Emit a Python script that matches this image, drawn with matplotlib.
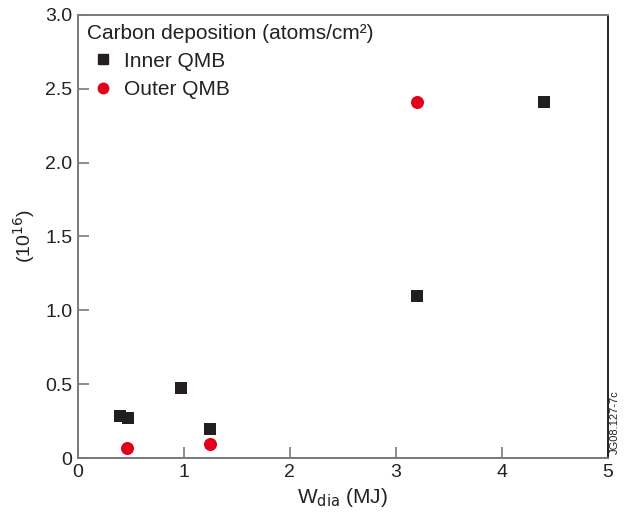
import matplotlib
matplotlib.use("Agg")
import matplotlib.pyplot as plt
from matplotlib.lines import Line2D

plt.rcParams['font.family'] = ['Liberation Sans', 'DejaVu Sans']

# Stored energy (MJ) and carbon deposition (1e16 atoms/cm^2)
inner_w = [0.40, 0.47, 0.97, 1.25, 3.20, 4.40]
inner_c = [0.285, 0.272, 0.475, 0.195, 1.10, 2.41]
outer_w = [0.465, 1.25, 3.20]
outer_c = [0.07, 0.095, 2.41]

x_ticks = [0, 1, 2, 3, 4, 5]
y_ticks = [0, 0.5, 1.0, 1.5, 2.0, 2.5, 3.0]
y_labels = ["0", "0.5", "1.0", "1.5", "2.0", "2.5", "3.0"]

dark = "#231f20"
red = "#e2001a"
grey = "#7a7a7a"

fig = plt.figure(figsize=(6.24, 5.13), dpi=100)
ax = fig.add_axes([0.125, 0.107, 0.849, 0.864])

ax.scatter(inner_w, inner_c, marker="s", s=66, color=dark, linewidths=0, zorder=3)
ax.scatter(outer_w, outer_c, marker="o", s=88, color=red, linewidths=0, zorder=3)

ax.set_xlim(0, 5)
ax.set_ylim(0, 3.0)
ax.set_xticks(x_ticks)
ax.set_yticks(y_ticks)
ax.set_yticklabels(y_labels)
ax.tick_params(direction="in", length=8, width=1.2, color=grey,
               labelsize=14, labelcolor="#222222", pad=4)

for side in ["left", "bottom", "top"]:
    ax.spines[side].set_color(grey)
    ax.spines[side].set_linewidth(1.4)
ax.spines["right"].set_color(dark)
ax.spines["right"].set_linewidth(1.4)

ax.set_xlabel(r"W$_{\mathrm{dia}}$ (MJ)", fontsize=15, color="#222222", labelpad=4)
ax.set_ylabel(r"(10$^{16}$)", fontsize=14, color="#222222", labelpad=6)

handles = [
    Line2D([], [], marker="s", linestyle="none", color=dark, markersize=6.5),
    Line2D([], [], marker="o", linestyle="none", color=red, markersize=7.5),
]
leg = ax.legend(handles, ["Inner QMB", "Outer QMB"],
                title="Carbon deposition (atoms/cm²)",
                loc="upper left", frameon=False, fontsize=15,
                title_fontsize=15, handletextpad=0.25, handlelength=1.5,
                borderaxespad=0.2, labelspacing=0.45, borderpad=0.25)
leg._legend_box.align = "left"
leg._legend_box.sep = 6
for t in leg.get_texts():
    t.set_color("#222222")
leg.get_title().set_color("#222222")

fig.text(0.985, 0.177, "JG08.127-7c", rotation=90, fontsize=8,
         ha="center", va="center", color="#222222")

fig.savefig("out.png", dpi=100)
